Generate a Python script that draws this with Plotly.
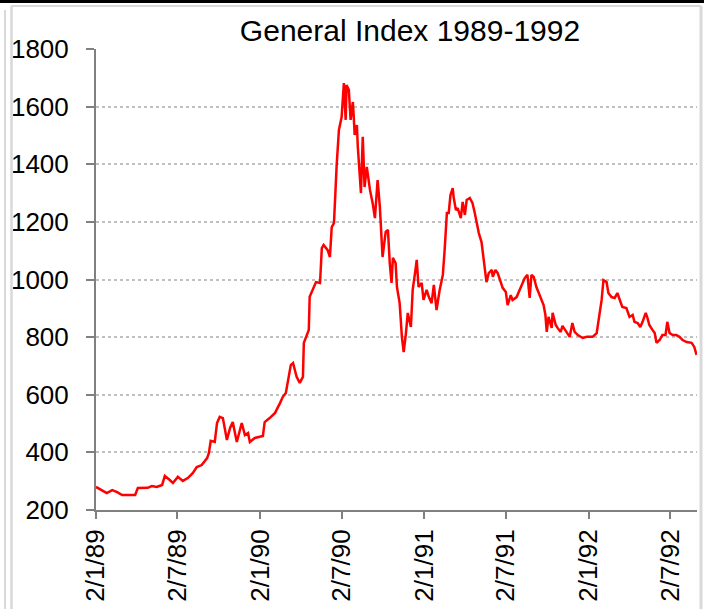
import plotly.graph_objects as go

# ---- data ----
dates = [
    "1989-01-02", "1989-01-11", "1989-01-26", "1989-02-07", "1989-02-18", "1989-03-01",
    "1989-03-12", "1989-03-30", "1989-04-05", "1989-04-27", "1989-05-06", "1989-05-17",
    "1989-05-29", "1989-06-04", "1989-06-15", "1989-06-22", "1989-07-03", "1989-07-14",
    "1989-07-25", "1989-08-05", "1989-08-14", "1989-08-25", "1989-09-06", "1989-09-10",
    "1989-09-14", "1989-09-23", "1989-09-28", "1989-10-04", "1989-10-11", "1989-10-20",
    "1989-10-27", "1989-11-02", "1989-11-11", "1989-11-22", "1989-11-29", "1989-12-06",
    "1989-12-10", "1989-12-21", "1990-01-08", "1990-01-12", "1990-01-23", "1990-02-04",
    "1990-02-15", "1990-02-21", "1990-02-28", "1990-03-04", "1990-03-11", "1990-03-16",
    "1990-03-24", "1990-03-31", "1990-04-07", "1990-04-09", "1990-04-16", "1990-04-20",
    "1990-04-22", "1990-04-29", "1990-05-06", "1990-05-15", "1990-05-19", "1990-05-23",
    "1990-06-01", "1990-06-06", "1990-06-10", "1990-06-15", "1990-06-17", "1990-06-21",
    "1990-06-26", "1990-07-02", "1990-07-07", "1990-07-11", "1990-07-13", "1990-07-18",
    "1990-07-22", "1990-07-27", "1990-07-29", "1990-07-31", "1990-08-05", "1990-08-07",
    "1990-08-14", "1990-08-18", "1990-08-22", "1990-08-27", "1990-09-03", "1990-09-09",
    "1990-09-14", "1990-09-18", "1990-09-20", "1990-09-25", "1990-09-29", "1990-10-01",
    "1990-10-08", "1990-10-13", "1990-10-17", "1990-10-21", "1990-10-24", "1990-10-30",
    "1990-11-02", "1990-11-08", "1990-11-13", "1990-11-17", "1990-11-22", "1990-11-26",
    "1990-12-03", "1990-12-07", "1990-12-14", "1990-12-16", "1990-12-20", "1990-12-27",
    "1990-12-31", "1991-01-07", "1991-01-12", "1991-01-18", "1991-01-23", "1991-01-29",
    "1991-02-05", "1991-02-12", "1991-02-16", "1991-02-21", "1991-02-25", "1991-03-01",
    "1991-03-06", "1991-03-08", "1991-03-13", "1991-03-17", "1991-03-24", "1991-03-28",
    "1991-04-02", "1991-04-06", "1991-04-13", "1991-04-19", "1991-04-24", "1991-04-28",
    "1991-05-03", "1991-05-09", "1991-05-12", "1991-05-16", "1991-05-20", "1991-05-25",
    "1991-06-01", "1991-06-03", "1991-06-09", "1991-06-14", "1991-06-21", "1991-06-25",
    "1991-07-02", "1991-07-06", "1991-07-13", "1991-07-17", "1991-07-26", "1991-08-02",
    "1991-08-08", "1991-08-13", "1991-08-19", "1991-08-24", "1991-08-28", "1991-09-02",
    "1991-09-08", "1991-09-13", "1991-09-20", "1991-09-24", "1991-09-28", "1991-10-01",
    "1991-10-05", "1991-10-12", "1991-10-14", "1991-10-21", "1991-10-25", "1991-11-01",
    "1991-11-05", "1991-11-14", "1991-11-21", "1991-11-27", "1991-12-02", "1991-12-09",
    "1991-12-20", "1991-12-29", "1992-01-11", "1992-01-20", "1992-01-24", "1992-01-31",
    "1992-02-04", "1992-02-11", "1992-02-15", "1992-02-22", "1992-02-29", "1992-03-06",
    "1992-03-13", "1992-03-17", "1992-03-26", "1992-04-02", "1992-04-09", "1992-04-13",
    "1992-04-20", "1992-04-26", "1992-05-01", "1992-05-08", "1992-05-12", "1992-05-16",
    "1992-05-23", "1992-05-28", "1992-06-01", "1992-06-08", "1992-06-14", "1992-06-21",
    "1992-06-25", "1992-06-30", "1992-07-07", "1992-07-15", "1992-07-22", "1992-07-29",
    "1992-08-07", "1992-08-18", "1992-08-24", "1992-08-29",
]
index_values = [
    280, 273, 259, 269, 262, 252,
    252, 252, 276, 277, 283, 280,
    287, 318, 304, 294, 315, 301,
    311, 328, 349, 356, 380, 398,
    440, 436, 502, 523, 519, 443,
    485, 505, 436, 502, 460, 467,
    436, 450, 457, 505, 519, 537,
    571, 592, 606, 641, 703, 710,
    662, 641, 662, 780, 807, 825,
    940, 964, 991, 988, 1109, 1120,
    1102, 1078, 1182, 1196, 1276, 1397,
    1519, 1564, 1682, 1554, 1675, 1658,
    1554, 1616, 1564, 1502, 1536, 1460,
    1300, 1495, 1321, 1391, 1311, 1265,
    1213, 1286, 1345, 1252, 1148, 1078,
    1165, 1172, 1057, 988, 1075, 1057,
    974, 918, 800, 748, 814, 884,
    835, 964, 1043, 1068, 974, 988,
    929, 964, 939, 918, 981, 894,
    964, 1016, 1102, 1231, 1231, 1293,
    1317, 1286, 1241, 1248, 1213, 1269,
    1224, 1276, 1283, 1265, 1231, 1200,
    1161, 1130, 1092, 1057, 991, 1022,
    1033, 1009, 1033, 1022, 988, 971,
    957, 911, 946, 929, 939, 964,
    988, 1005, 1016, 936, 1016, 1009,
    974, 953, 922, 911, 877, 818,
    870, 832, 884, 842, 832, 818,
    839, 818, 801, 849, 818, 807,
    797, 801, 801, 814, 859, 929,
    998, 991, 953, 939, 936, 953,
    922, 905, 901, 870, 877, 853,
    849, 835, 853, 884, 866, 842,
    825, 814, 780, 790, 807, 807,
    853, 814, 807, 807, 801, 790,
    783, 780, 766, 738,
]
tick_dates = ["1989-01-02", "1989-07-02", "1990-01-02", "1990-07-02",
              "1991-01-02", "1991-07-02", "1992-01-02", "1992-07-02"]
tick_labels = ["2/1/89", "2/7/89", "2/1/90", "2/7/90",
               "2/1/91", "2/7/91", "2/1/92", "2/7/92"]
y_ticks = [200, 400, 600, 800, 1000, 1200, 1400, 1600, 1800]
title_text = "General Index 1989-1992"

FONT = "Liberation Sans, Arial, sans-serif"

fig = go.Figure()
fig.add_trace(go.Scatter(
    x=dates, y=index_values, mode="lines",
    line=dict(color="#ff0000", width=2.5),
    showlegend=False,
))

W, H = 704, 609
L, R, T, B = 96, 7, 49, 99
pw, ph = W - L - R, H - T - B


def px_x(p):
    return (p - L) / pw


def px_y(p):
    return (H - B - p) / ph


frame_grey = "#d9d9d9"
shapes = [
    dict(type="line", xref="paper", yref="paper", x0=px_x(0), x1=px_x(W),
         y0=px_y(1.5), y1=px_y(1.5), line=dict(color="#000000", width=3)),
    dict(type="line", xref="paper", yref="paper", x0=px_x(11), x1=px_x(701),
         y0=px_y(6), y1=px_y(6), line=dict(color=frame_grey, width=2)),
    dict(type="line", xref="paper", yref="paper", x0=px_x(11.5), x1=px_x(11.5),
         y0=px_y(6), y1=px_y(H), line=dict(color=frame_grey, width=2.5)),
    dict(type="line", xref="paper", yref="paper", x0=px_x(5), x1=px_x(5),
         y0=px_y(10), y1=px_y(H), line=dict(color=frame_grey, width=2)),
    dict(type="line", xref="paper", yref="paper", x0=px_x(701), x1=px_x(701),
         y0=px_y(6), y1=px_y(H), line=dict(color=frame_grey, width=3)),
]

fig.update_layout(
    width=W, height=H,
    margin=dict(l=L, r=R, t=T, b=B, pad=0),
    paper_bgcolor="#ffffff", plot_bgcolor="#ffffff",
    font=dict(family=FONT, size=26, color="#000000"),
    title=dict(text=title_text, x=410 / W, xanchor="center",
               y=1 - 30 / H, yanchor="middle", yref="container",
               font=dict(family=FONT, size=30, color="#000000")),
    shapes=shapes,
    xaxis=dict(
        type="date", range=["1989-01-02", "1992-08-30"],
        tickmode="array", tickvals=tick_dates, ticktext=tick_labels,
        tickangle=-90, ticks="outside", ticklen=7, tickwidth=2,
        tickcolor="#808080", showline=True, linecolor="#808080", linewidth=2,
        showgrid=False, zeroline=False,
        tickfont=dict(family=FONT, size=26, color="#000000"),
    ),
    yaxis=dict(
        range=[200, 1800], tickmode="array", tickvals=y_ticks,
        ticks="outside", ticklen=8, tickwidth=2, tickcolor="#808080",
        showline=True, linecolor="#808080", linewidth=2,
        showgrid=True, gridcolor="#c0c0c0", gridwidth=1.5, griddash="dot",
        zeroline=False, ticklabelstandoff=12,
        tickfont=dict(family=FONT, size=26, color="#000000"),
    ),
)

fig.write_html(
    "out.html",
    config={"displayModeBar": False},
    post_script="document.body.style.margin='0';document.body.style.overflow='hidden';",
)
